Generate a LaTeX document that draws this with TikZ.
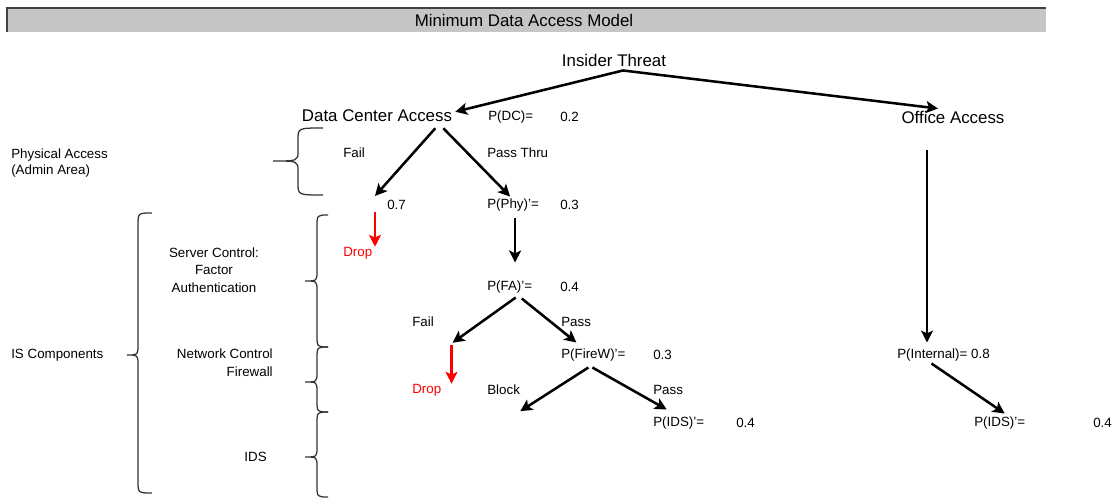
\documentclass[tikz,border=0pt]{standalone}
\usepackage{fontspec}
\setmainfont{Liberation Sans}
\usetikzlibrary{arrows.meta,calc}
% curly bracket: end x, spine x, tip x, top y, tip y, bottom y
\newcommand\drawbrace[6]{%
  \draw[brc] (#1,#4) .. controls (#2,#4) .. (#2,#4+12) -- (#2,#5-10)
    .. controls (#2,#5) .. (#3,#5) .. controls (#2,#5) .. (#2,#5+10)
    -- (#2,#6-12) .. controls (#2,#6) .. (#1,#6);}
\begin{document}
\begin{tikzpicture}[x=0.025cm,y=-0.025cm,>={Stealth[length=8.5pt,width=8.5pt,inset=2pt]},
  arr/.style={->,line width=1.8pt},
  redarr/.style={->,line width=1.8pt,red},
  brc/.style={line width=0.9pt,black!80},
  lbl/.style={font=\fontsize{9.5}{12}\selectfont,inner sep=0pt,anchor=west},
  big/.style={font=\fontsize{12}{14}\selectfont,inner sep=0pt}]
  \useasboundingbox (0,0) rectangle (1112,500);
  % title bar
  \fill[gray!45] (7,8) rectangle (1046,32);
  \draw[line width=1.5pt,black!75] (7,32) -- (7,8) -- (1046,8);
  \node[big] (title) at (524,20) {Minimum Data Access Model};

  \node[big] (it) at (614,60) {Insider Threat};
  \node[big] (dc) at (377,116) {Data Center Access};
  \node[big] (oa) at (953,117) {Office Access};
  \node[lbl] (pdc) at (488,117) {P(DC)=};
  \node[lbl] (pdcv) at (560,117) {0.2};

  % left column
  \node[lbl,align=left] (phys) at (11,163) {Physical Access\\(Admin Area)};
  \node[lbl] (isc) at (11,355) {IS Components};
  \node[lbl,anchor=center,align=center,font=\fontsize{9.5}{12.5}\selectfont] (sc) at (214,270)
    {Server Control:\\Factor\\Authentication};
  \node[lbl,anchor=east,align=right,font=\fontsize{9.5}{12.5}\selectfont] (nc) at (273,363)
    {Network Control\\Firewall};
  \node[lbl,anchor=east] (ids) at (267,457) {IDS};

  \drawbrace{323}{298}{273}{128}{161}{195}
  \drawbrace{152}{138}{127}{213}{355}{493}
  \drawbrace{328}{317}{305}{215}{281}{347}
  \drawbrace{328}{317}{305}{347}{382}{412}
  \drawbrace{328}{317}{305}{412}{457}{497}

  % data center branch
  \node[lbl] (fail1) at (343,153) {Fail};
  \node[lbl] (passthru) at (487,153) {Pass Thru};
  \node[lbl] (v07) at (387,205) {0.7};
  \node[lbl] (pphy) at (487,205) {P(Phy)'=};
  \node[lbl] (pphyv) at (560,205) {0.3};
  \node[lbl,red] (drop1) at (343,253) {Drop};
  \node[lbl] (pfa) at (487,287) {P(FA)'=};
  \node[lbl] (pfav) at (560,287) {0.4};
  \node[lbl] (fail2) at (412,322) {Fail};
  \node[lbl] (pass1) at (561,322) {Pass};
  \node[lbl] (pfw) at (561,355) {P(FireW)'=};
  \node[lbl] (pfwv) at (653,355) {0.3};
  \node[lbl,red] (drop2) at (412,390) {Drop};
  \node[lbl] (block) at (487,390) {Block};
  \node[lbl] (pass2) at (653,390) {Pass};
  \node[lbl] (pids) at (653,423) {P(IDS)'=};
  \node[lbl] (pidsv) at (736,423) {0.4};

  % office branch
  \node[lbl] (pint) at (897,355) {P(Internal)= 0.8};
  \node[lbl] (pids2) at (974,423) {P(IDS)'=};
  \node[lbl] (pids2v) at (1093,423) {0.4};

  \draw[arr] ($(it.south)+(9,4)$) -- ($(dc.north east)+(3,2)$);
  \draw[arr] ($(it.south)+(9,4)$) -- ($(oa.north)+(-15,-2)$);
  \draw[arr] ($(dc.south east)+(-17,6)$) -- ($(v07.west)+(-12,-9)$);
  \draw[arr] ($(dc.south east)+(-9,6)$) -- ($(pphy.north)+(-3,-2)$);
  \draw[redarr] ($(v07.west)+(-12,7)$) coordinate (r1) -- (r1 |- drop1.north);
  \draw[arr,shorten >=0.45cm] ($(pphy.south)+(2,6)$) coordinate (a6) -- (a6 |- pfa.north);
  \draw[redarr] ($(drop2.north east)+(10,-39)$) coordinate (r2) -- (r2 |- drop2.north);
  \draw[arr] ($(pfa.south)+(6,4)$) -- ($(r2)+(1,-2)$);
  \draw[arr] ($(pfa.south)+(12,5)$) -- ($(pfw.north)+(-17,-6)$);
  \draw[arr] ($(pfw.south)+(-5,6)$) -- ($(block.south east)+(0,16)$);
  \draw[arr] ($(pfw.south)+(-1,6)$) -- ($(pids.north)+(-12,-7)$);
  \draw[arr,shorten >=0.15cm] ($(oa.south)+(-26,27)$) coordinate (a11) -- (a11 |- pint.north);
  \draw[arr] ($(pint.south)+(-12,2)$) -- ($(pids2.north)+(5,-3)$);
\end{tikzpicture}
\end{document}
